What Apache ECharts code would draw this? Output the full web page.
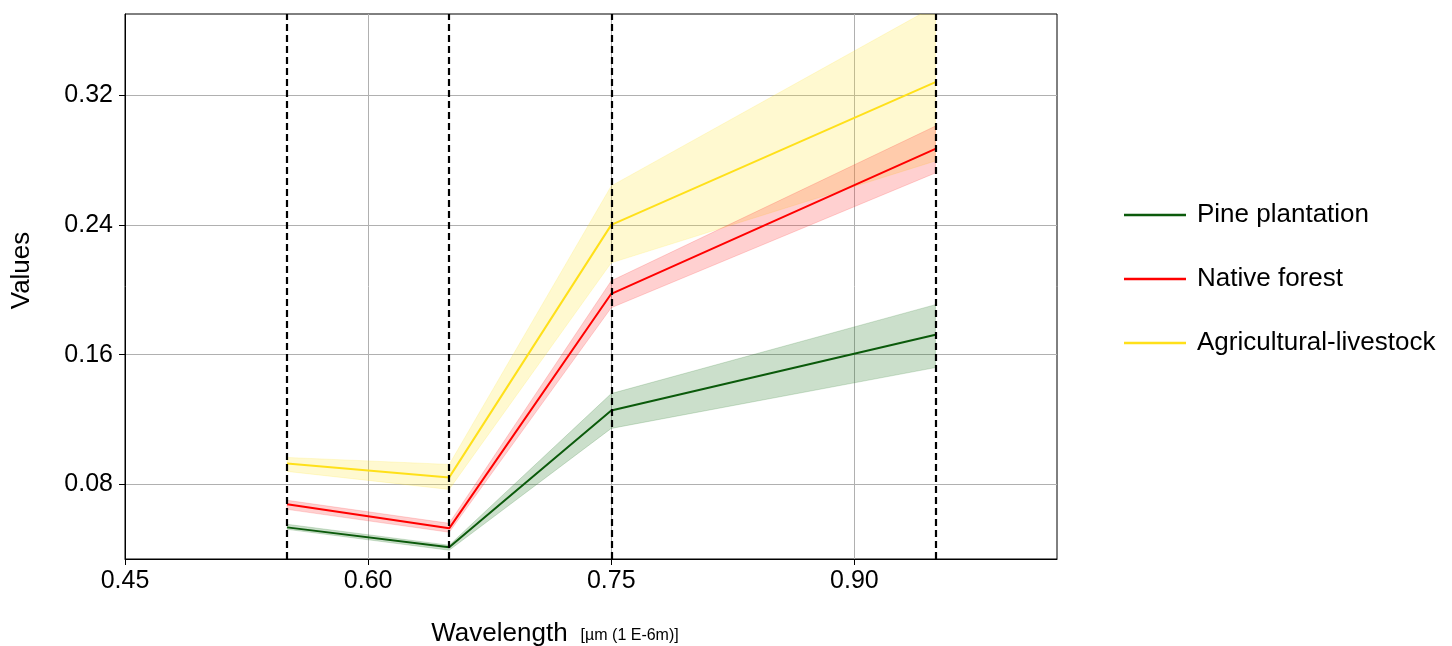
<!DOCTYPE html>
<html>
<head>
<meta charset="utf-8">
<script src="https://cdn.jsdelivr.net/npm/echarts@6/dist/echarts.min.js"></script>
<style>
html,body{margin:0;padding:0;background:#fff;}
#chart{width:1452px;height:646px;}
</style>
</head>
<body>
<div id="chart"></div>
<script>
const wavelengths = [0.55, 0.65, 0.75, 0.95];
const xTicks = [0.45, 0.60, 0.75, 0.90];
const yTicks = [0.08, 0.16, 0.24, 0.32];

const pineMean = [0.0535, 0.0412, 0.1255, 0.1723];
const pineLow  = [0.0523, 0.0394, 0.1145, 0.1520];
const pineHigh = [0.0554, 0.0425, 0.1360, 0.1908];

const nativeMean = [0.0677, 0.0529, 0.1975, 0.2868];
const nativeLow  = [0.0646, 0.0505, 0.1889, 0.2720];
const nativeHigh = [0.0702, 0.0560, 0.2055, 0.3009];

const agriMean = [0.0929, 0.0843, 0.2400, 0.3280];
const agriLow  = [0.0880, 0.0769, 0.2166, 0.2794];
const agriHigh = [0.0966, 0.0923, 0.2640, 0.3750];

const names = ['Pine plantation', 'Native forest', 'Agricultural-livestock'];
const lineColors = ['#0b5a0b', '#ff0000', '#ffe01a'];
const bandColors = ['rgba(20,110,20,0.22)', 'rgba(255,40,40,0.22)', 'rgba(255,228,40,0.22)'];
const bandEdges = ['rgba(20,110,20,0.18)', 'rgba(255,40,40,0.18)', 'rgba(255,228,40,0.18)'];

const pairs = (xs, ys) => xs.map((x, i) => [x, ys[i]]);

function bandSeries(idx, low, high) {
  return {
    type: 'custom', silent: true, clip: true, z: 1,
    data: [[wavelengths[0], low[0]]],
    renderItem: function (params, api) {
      const upper = wavelengths.map((w, i) => api.coord([w, high[i]]));
      const lower = wavelengths.map((w, i) => api.coord([w, low[i]])).reverse();
      return {
        type: 'polygon',
        shape: {points: upper.concat(lower)},
        style: {fill: bandColors[idx], stroke: bandEdges[idx], lineWidth: 1}
      };
    }
  };
}

function meanSeries(idx, mean, extra) {
  return Object.assign({
    name: names[idx], type: 'line', data: pairs(wavelengths, mean),
    showSymbol: false, color: lineColors[idx],
    lineStyle: {color: lineColors[idx], width: 2}, z: 3
  }, extra || {});
}

const chart = echarts.init(document.getElementById('chart'));
chart.setOption({
  animation: false,
  backgroundColor: '#fff',
  grid: {left: 125, right: 395, top: 14, bottom: 87, outerBoundsMode: 'none', containLabel: false,
         show: true, borderColor: '#000', borderWidth: 1, backgroundColor: 'transparent'},
  legend: {
    orient: 'vertical', left: 1119, top: 195,
    data: names, icon: 'rect', itemWidth: 62, itemHeight: 2.5, itemGap: 34,
    textStyle: {fontFamily: 'Liberation Sans', fontSize: 26, color: '#000', padding: [0, 0, 0, 6], lineHeight: 30}
  },
  xAxis: {
    type: 'value', min: 0.45, max: 1.025,
    name: '{a|Wavelength}{b|[µm (1 E-6m)]}', nameLocation: 'middle', nameGap: 62,
    nameTextStyle: {
      padding: [0, 72, 0, 0],
      rich: {
        a: {fontFamily: 'Liberation Sans', fontSize: 26, color: '#000'},
        b: {fontFamily: 'Liberation Sans', fontSize: 16, color: '#000', padding: [0, 0, -3, 13]}
      }
    },
    axisLine: {show: true, onZero: false, lineStyle: {color: '#000', width: 1}},
    axisTick: {show: true, inside: false, length: 6, customValues: xTicks, lineStyle: {color: '#000'}},
    axisLabel: {customValues: xTicks, margin: 10, fontFamily: 'Liberation Sans', fontSize: 25, color: '#000', formatter: v => v.toFixed(2)},
    splitLine: {show: true, lineStyle: {color: '#b0b0b0', width: 1}}
  },
  yAxis: {
    type: 'value', min: 0.034, max: 0.37,
    name: 'Values', nameLocation: 'middle', nameGap: 90, nameRotate: 90,
    nameTextStyle: {fontFamily: 'Liberation Sans', fontSize: 26, color: '#000', padding: [0, 0, 0, 32]},
    axisLine: {show: true, onZero: false, lineStyle: {color: '#000', width: 1}},
    axisTick: {show: true, inside: false, length: 6, customValues: yTicks, lineStyle: {color: '#000'}},
    axisLabel: {customValues: yTicks, margin: 12, fontFamily: 'Liberation Sans', fontSize: 25, color: '#000', formatter: v => v.toFixed(2)},
    splitLine: {show: true, lineStyle: {color: '#b0b0b0', width: 1}}
  },
  series: [
    bandSeries(2, agriLow, agriHigh),
    bandSeries(1, nativeLow, nativeHigh),
    bandSeries(0, pineLow, pineHigh),
    meanSeries(2, agriMean),
    meanSeries(1, nativeMean),
    meanSeries(0, pineMean, {
      markLine: {
        silent: true, symbol: 'none', label: {show: false}, z: 4,
        lineStyle: {color: '#000', type: [7, 4], width: 2.2},
        data: wavelengths.map(w => ({xAxis: w}))
      }
    })
  ]
});
</script>
</body>
</html>
